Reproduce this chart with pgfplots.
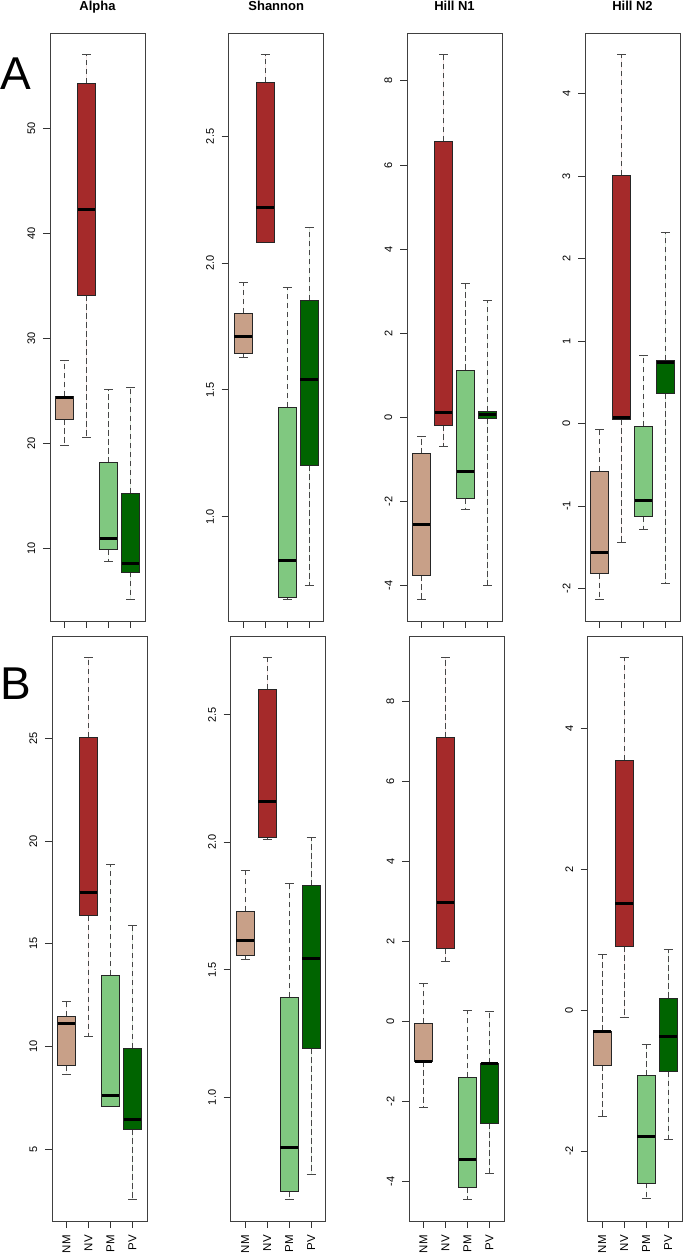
\documentclass[border=0pt]{standalone}
\usepackage{pgfplots}
\pgfplotsset{compat=1.18}
\usepgfplotslibrary{statistics}
\usepackage{fontspec}
\setmainfont{Liberation Sans}
\definecolor{cNM}{RGB}{200,160,136}
\definecolor{cNV}{RGB}{165,42,42}
\definecolor{cPM}{RGB}{128,200,128}
\definecolor{cPV}{RGB}{0,100,0}
\newcommand{\bx}[7]{\addplot[fill=#1, draw=black!85, line width=0.8pt,
  boxplot prepared={draw direction=y, draw position=#2, lower whisker=#3, lower quartile=#4,
  median=#5, upper quartile=#6, upper whisker=#7}] coordinates {};}
\pgfplotsset{
  panel/.style={
    scale only axis, width=95pt,
    xmin=0.34, xmax=4.66, xtick={1,2,3,4},
    axis line style={draw=black!75, line width=0.9pt},
    tick align=outside, major tick length=7pt,
    every tick/.style={black!80, line width=0.9pt},
    xtick pos=left, ytick pos=left,
    /pgf/number format/assume math mode=true,
    yticklabel shift=7.5pt, xticklabel shift=7pt,
    yticklabel style={rotate=90, anchor=south, inner sep=0pt, font=\fontsize{11}{11}\selectfont},
    xticklabel style={rotate=90, anchor=east, inner sep=0pt, font=\fontsize{11.5}{11.5}\selectfont},
    title style={at={(0.5,1)}, anchor=base, yshift=16pt, font=\bfseries\fontsize{13}{13}\selectfont},
    boxplot/draw direction=y,
    boxplot/box extend=0.8,
    boxplot/whisker extend=0.4,
    boxplot/every median/.style={line width=3pt, draw=black},
    boxplot/every whisker/.style={draw=black!72, line width=1pt, dash pattern=on 5.5pt off 3.5pt},
    boxplot/draw/lower whisker/.code={
      \draw[/pgfplots/boxplot/every whisker/.try]
        (boxplot box cs:\pgfplotsboxplotvalue{lower quartile},0.5) --
        (boxplot box cs:\pgfplotsboxplotvalue{lower whisker},0.5);
      \draw[/pgfplots/boxplot/every whisker/.try, solid]
        (boxplot whisker cs:\pgfplotsboxplotvalue{lower whisker},0) --
        (boxplot whisker cs:\pgfplotsboxplotvalue{lower whisker},1);
    },
    boxplot/draw/upper whisker/.code={
      \draw[/pgfplots/boxplot/every whisker/.try]
        (boxplot box cs:\pgfplotsboxplotvalue{upper quartile},0.5) --
        (boxplot box cs:\pgfplotsboxplotvalue{upper whisker},0.5);
      \draw[/pgfplots/boxplot/every whisker/.try, solid]
        (boxplot whisker cs:\pgfplotsboxplotvalue{upper whisker},0) --
        (boxplot whisker cs:\pgfplotsboxplotvalue{upper whisker},1);
    },
  },
  rowA/.style={panel, height=588pt, xticklabels={}},
  rowB/.style={panel, height=585pt, xticklabels={NM,NV,PM,PV}},
}
\begin{document}
\begin{tikzpicture}[x=1pt,y=1pt]
\useasboundingbox (0,0) rectangle (684,1253);
\node[font=\fontsize{46}{46}\selectfont, anchor=base] at (16,1163) {A};
\node[font=\fontsize{46}{46}\selectfont, anchor=base] at (16,553) {B};
% ---------------- Row A ----------------
\begin{axis}[rowA, at={(50pt,632pt)}, anchor=south west, title={Alpha},
  ymin=3.13, ymax=59.07, ytick={10,20,30,40,50}]
\bx{cNM}{1}{19.8}{22.3}{24.35}{24.5}{27.9}
\bx{cNV}{2}{20.6}{34.1}{42.3}{54.3}{57.0}
\bx{cPM}{3}{8.8}{9.9}{11.0}{18.2}{25.2}
\bx{cPV}{4}{5.2}{7.8}{8.6}{15.3}{25.3}
\end{axis}
\begin{axis}[rowA, at={(228.7pt,632pt)}, anchor=south west, title={Shannon},
  ymin=0.588, ymax=2.908, ytick={1.0,1.5,2.0,2.5}, yticklabels={1.0,1.5,2.0,2.5}]
\bx{cNM}{1}{1.627}{1.643}{1.711}{1.803}{1.925}
\bx{cNV}{2}{2.083}{2.083}{2.219}{2.714}{2.822}
\bx{cPM}{3}{0.674}{0.680}{0.825}{1.432}{1.903}
\bx{cPV}{4}{0.729}{1.202}{1.540}{1.853}{2.142}
\end{axis}
\begin{axis}[rowA, at={(407pt,632pt)}, anchor=south west, title={Hill N1},
  ymin=-4.838, ymax=9.138, ytick={-4,-2,0,2,4,6,8}, yticklabels={-4,-2,0,2,4,6,8}]
\bx{cNM}{1}{-4.32}{-3.75}{-2.54}{-0.865}{-0.444}
\bx{cNV}{2}{-0.68}{-0.19}{0.126}{6.56}{8.62}
\bx{cPM}{3}{-2.19}{-1.93}{-1.29}{1.13}{3.18}
\bx{cPV}{4}{-4.0}{-0.024}{0.07}{0.15}{2.79}
\end{axis}
\begin{axis}[rowA, at={(585pt,632pt)}, anchor=south west, title={Hill N2},
  ymin=-2.394, ymax=4.734, ytick={-2,-1,0,1,2,3,4}, yticklabels={-2,-1,0,1,2,3,4}]
\bx{cNM}{1}{-2.13}{-1.82}{-1.56}{-0.578}{-0.069}
\bx{cNV}{2}{-1.44}{0.05}{0.069}{3.01}{4.47}
\bx{cPM}{3}{-1.28}{-1.13}{-0.93}{-0.036}{0.82}
\bx{cPV}{4}{-1.94}{0.364}{0.74}{0.764}{2.31}
\end{axis}
% ---------------- Row B ----------------
\begin{axis}[rowB, at={(52pt,32pt)}, anchor=south west,
  ymin=1.516, ymax=29.974, ytick={5,10,15,20,25}]
\bx{cNM}{1}{8.66}{9.09}{11.13}{11.47}{12.18}
\bx{cNV}{2}{10.48}{16.37}{17.49}{25.06}{28.92}
\bx{cPM}{3}{7.11}{7.11}{7.61}{13.48}{18.87}
\bx{cPV}{4}{2.57}{5.97}{6.46}{9.93}{15.91}
\end{axis}
\begin{axis}[rowB, at={(230.7pt,32pt)}, anchor=south west,
  ymin=0.516, ymax=2.808, ytick={1.0,1.5,2.0,2.5}, yticklabels={1.0,1.5,2.0,2.5}]
\bx{cNM}{1}{1.54}{1.556}{1.615}{1.73}{1.89}
\bx{cNV}{2}{2.01}{2.02}{2.16}{2.60}{2.723}
\bx{cPM}{3}{0.601}{0.631}{0.803}{1.392}{1.84}
\bx{cPV}{4}{0.698}{1.192}{1.543}{1.83}{2.02}
\end{axis}
\begin{axis}[rowB, at={(409pt,32pt)}, anchor=south west,
  ymin=-4.992, ymax=9.642, ytick={-4,-2,0,2,4,6,8}, yticklabels={-4,-2,0,2,4,6,8}]
\bx{cNM}{1}{-2.15}{-1.0}{-1.0}{-0.05}{0.95}
\bx{cNV}{2}{1.5}{1.83}{2.97}{7.1}{9.1}
\bx{cPM}{3}{-4.45}{-4.15}{-3.45}{-1.4}{0.28}
\bx{cPV}{4}{-3.8}{-2.55}{-1.05}{-1.05}{0.25}
\end{axis}
\begin{axis}[rowB, at={(587.7pt,32pt)}, anchor=south west,
  ymin=-2.995, ymax=5.318, ytick={-2,0,2,4}, yticklabels={-2,0,2,4}]
\bx{cNM}{1}{-1.51}{-0.78}{-0.30}{-0.294}{0.796}
\bx{cNV}{2}{-0.10}{0.91}{1.52}{3.55}{5.01}
\bx{cPM}{3}{-2.67}{-2.455}{-1.80}{-0.93}{-0.49}
\bx{cPV}{4}{-1.84}{-0.873}{-0.38}{0.175}{0.867}
\end{axis}
\end{tikzpicture}
\end{document}
